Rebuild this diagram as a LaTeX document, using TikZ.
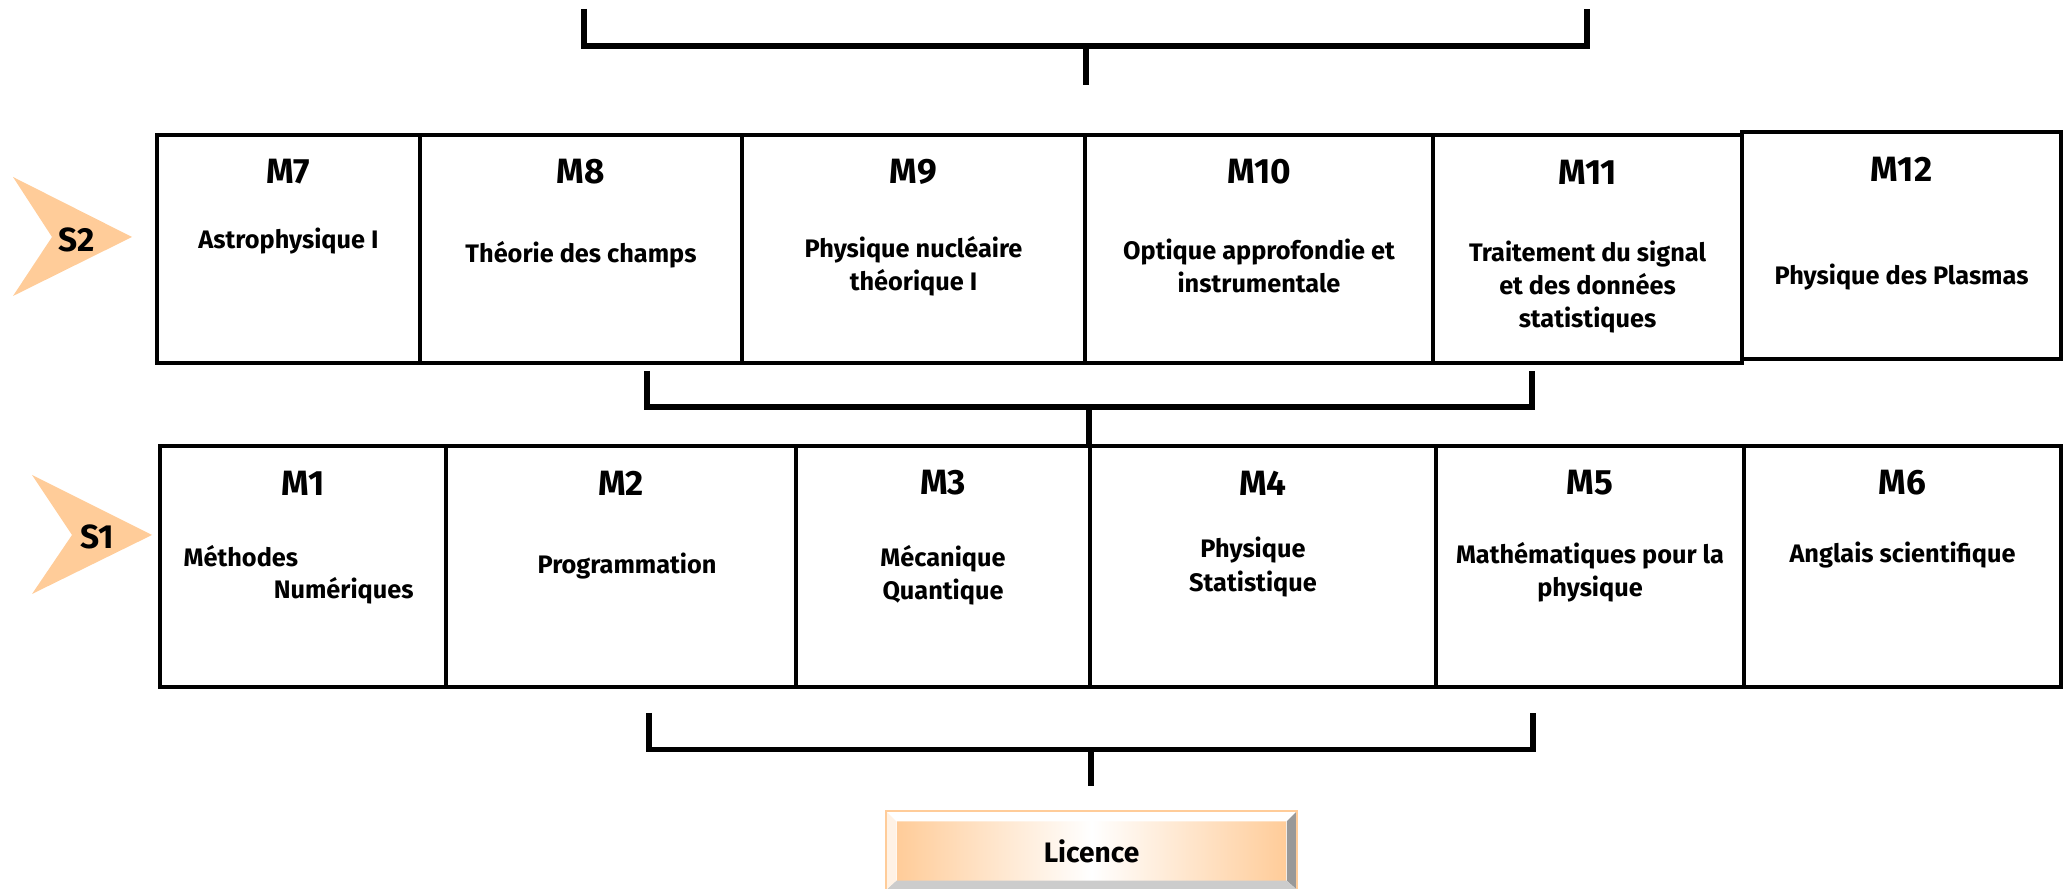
\documentclass[tikz,border=0pt]{standalone}
\usepackage{fontspec}
\setmainfont{Fira Sans}
\usetikzlibrary{positioning,fit}
\definecolor{peach}{HTML}{FFCC99}
\definecolor{bevelgray}{HTML}{999999}
\definecolor{bevellight}{HTML}{CCCCCC}

\begin{document}
\begin{tikzpicture}[x=0.01cm, y=-0.01cm,
  modbox/.style={draw, line width=1.1pt, inner sep=0pt, outer sep=0pt},
  modnum/.style={font=\bfseries\fontsize{10}{12}\selectfont},
  modtxt/.style={font=\bfseries\fontsize{7.2}{9.4}\selectfont, align=center},
  semlab/.style={font=\bfseries\fontsize{9.5}{11}\selectfont},
  licface/.style={minimum width=3.89cm, minimum height=0.58cm, inner sep=0pt, left color=peach, right color=peach, middle color=white, font=\bfseries\fontsize{8}{10}\selectfont},
  brk/.style={line width=1.7pt}]
\useasboundingbox (0,0) rectangle (2069,889);

% semesters
\fill[peach] (13,177) -- (132,237) -- (13,296) -- (52,237) -- cycle;
\node[semlab] (s2) at (77,240) {S2};
\fill[peach] (32,475) -- (152,535) -- (32,594) -- (72,535) -- cycle;
\node[semlab] (s1) at (97,537) {S1};

% modules S2
\foreach \n/\a/\b in {m7/157/420, m8/420/742, m9/742/1085, m10/1085/1433, m11/1433/1742}
  \node[modbox, fit={(\a,135) (\b,363)}] (\n) {};
\node[modbox, fit={(1742,132) (2061,359)}] (m12) {};

% modules S1
\foreach \n/\a/\b in {m1/160/446, m2/446/796, m3/796/1090, m4/1090/1436, m5/1436/1744, m6/1744/2061}
  \node[modbox, fit={(\a,446) (\b,687)}] (\n) {};

\foreach \n/\t in {m1/M1, m2/M2, m3/M3, m4/M4, m5/M5, m6/M6, m7/M7, m8/M8, m9/M9, m10/M10, m11/M11, m12/M12}
  \node[modnum] at ([yshift=-0.37cm]\n.north) {\t};

\node[modtxt] at ([yshift=-1.06cm]m7.north) {Astrophysique I};
\node[modtxt] at ([yshift=-1.2cm]m8.north) {Théorie des champs};
\node[modtxt] at ([yshift=-1.31cm]m9.north) {Physique nucléaire\\théorique I};
\node[modtxt] at ([yshift=-1.31cm]m10.north) {Optique approfondie et\\instrumentale};
\node[modtxt] at ([yshift=-1.52cm]m11.north) {Traitement du signal\\et des données\\statistiques};
\node[modtxt] at ([yshift=-1.45cm]m12.north) {Physique des Plasmas};

\node[modtxt, inner sep=0pt, anchor=base west] at ([shift={(0.23cm,-1.2cm)}]m1.north west) {Méthodes};
\node[modtxt, inner sep=0pt, anchor=base west] at ([shift={(1.13cm,-1.52cm)}]m1.north west) {Numériques};
\node[modtxt] at ([shift={(0.06cm,-1.2cm)}]m2.north) {Programmation};
\node[modtxt] at ([yshift=-1.29cm]m3.north) {Mécanique\\Quantique};
\node[modtxt] at ([shift={(-0.1cm,-1.21cm)}]m4.north) {Physique\\Statistique};
\node[modtxt] at ([yshift=-1.26cm]m5.north) {Mathématiques pour la\\physique};
\node[modtxt] at ([yshift=-1.09cm]m6.north) {Anglais scientifique};

% licence
\node[licface] (lic) at (1091.5,851) {Licence};
\fill[white] ([shift={(-10,-10)}]lic.north west) -- ([shift={(10,-10)}]lic.north east) -- (lic.north east) -- (lic.north west) -- cycle;
\fill[bevelgray] ([shift={(10,-10)}]lic.north east) -- ([shift={(10,9)}]lic.south east) -- (lic.south east) -- (lic.north east) -- cycle;
\fill[bevellight] ([shift={(10,9)}]lic.south east) -- ([shift={(-10,9)}]lic.south west) -- (lic.south west) -- (lic.south east) -- cycle;
\fill[peach!25] ([shift={(-10,9)}]lic.south west) -- ([shift={(-10,-10)}]lic.north west) -- (lic.north west) -- (lic.south west) -- cycle;
\draw[peach, line width=0.5pt] ([shift={(-10,-10)}]lic.north west) rectangle ([shift={(10,9)}]lic.south east);

% brackets
\coordinate (ta) at (584,9);
\coordinate (tb) at (1587,9);
\coordinate (tm) at (1085.5,46.5);
\coordinate (tc) at (1085.5,85);
\draw[brk] (ta) |- (tm) -| (tb);
\draw[brk] (tm) -- (tc);

\coordinate (ma) at (647,371);
\coordinate (mb) at (1532,371);
\coordinate (mm) at (1089,407);
\draw[brk] (ma) |- (mm) -| (mb);
\draw[brk] (mm) -- (mm |- m3.north);

\coordinate (ba) at (649,713);
\coordinate (bb) at (1533,713);
\coordinate (bm) at (1091,749.5);
\coordinate (bc) at (1091,786);
\draw[brk] (ba) |- (bm) -| (bb);
\draw[brk] (bm) -- (bc);
\end{tikzpicture}
\end{document}
